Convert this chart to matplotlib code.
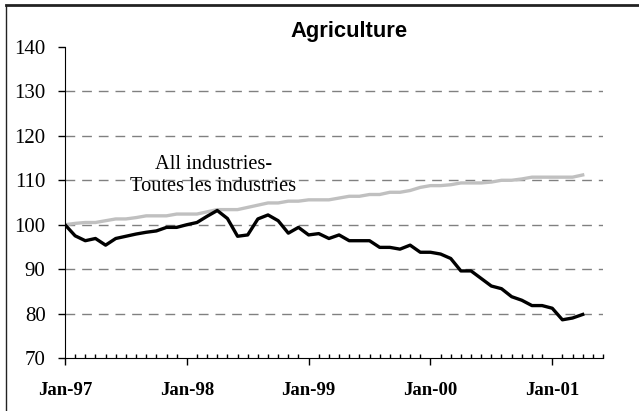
import matplotlib.pyplot as plt
from matplotlib.lines import Line2D
from matplotlib.ticker import FixedLocator
import numpy as np

# monthly index, Jan-97 = 100
month_labels = ["Jan-97", "Jan-98", "Jan-99", "Jan-00", "Jan-01"]
agriculture = [100.0, 97.5, 96.4, 96.9, 95.4, 96.9, 97.4, 97.9, 98.3, 98.6, 99.4, 99.4,
               100.0, 100.5, 101.9, 103.2, 101.4, 97.4, 97.7, 101.3, 102.2, 100.9, 98.1, 99.4,
               97.7, 98.0, 96.9, 97.7, 96.4, 96.4, 96.4, 94.9, 94.9, 94.5, 95.4, 93.8,
               93.8, 93.4, 92.4, 89.6, 89.6, 87.9, 86.2, 85.6, 83.8, 83.0, 81.8, 81.8,
               81.2, 78.6, 79.0, 79.8]
all_industries = [100.0, 100.3, 100.5, 100.5, 100.9, 101.3, 101.3, 101.6, 102.0, 102.0, 102.0, 102.4,
                  102.4, 102.4, 102.9, 103.4, 103.4, 103.4, 103.9, 104.4, 104.9, 104.9, 105.3, 105.3,
                  105.6, 105.6, 105.6, 106.0, 106.4, 106.4, 106.8, 106.8, 107.3, 107.3, 107.7, 108.4,
                  108.8, 108.8, 109.0, 109.4, 109.4, 109.4, 109.6, 110.0, 110.0, 110.3, 110.7, 110.7,
                  110.7, 110.7, 110.7, 111.2]

x = np.arange(len(agriculture))

fig = plt.figure(figsize=(6.39, 4.11), dpi=100)
ax = fig.add_axes([65/639, 53/411, 538/639, 311/411])

for yv in range(80, 140, 10):
    ax.axhline(yv, color="#808080", lw=1, dashes=(7, 5), zorder=1)

ax.plot(x, all_industries, color="#c0c0c0", lw=2.4, zorder=2)
ax.plot(x, agriculture, color="black", lw=2.4, zorder=3)

ax.set_xlim(0, 53)
ax.set_ylim(70, 140)
ax.set_yticks(range(70, 141, 10))
ax.set_xticks(np.arange(0, 53, 12))
ax.set_xticklabels(month_labels, family="Liberation Serif", fontweight="bold", fontsize=13.5)
ax.xaxis.set_minor_locator(FixedLocator(np.arange(0, 54, 1)))
for lab in ax.get_yticklabels():
    lab.set_family("Liberation Serif")
    lab.set_fontsize(15)

ax.spines["top"].set_visible(False)
ax.spines["right"].set_visible(False)
ax.tick_params(axis="y", direction="out", length=5, width=1, pad=9)
ax.tick_params(axis="x", which="major", direction="out", length=5, width=1, pad=12)
ax.tick_params(axis="x", which="minor", direction="in", length=3, width=1)

ax.text(14.6, 111.1, "All industries-\nToutes les industries", family="Liberation Serif",
        fontsize=14.7, ha="center", va="center", linespacing=1.2)

fig.text(349/639, 1 - 32/411, "Agriculture", family="Liberation Sans", fontweight="bold",
         fontsize=15.8, ha="center", va="center")

# outer frame (only top and left edges visible in the source)
fig.add_artist(Line2D([6/639, 1], [1 - 5/411, 1 - 5/411], color="#222222", lw=2, transform=fig.transFigure))
fig.add_artist(Line2D([6/639, 6/639], [0, 1 - 5/411], color="#222222", lw=1, transform=fig.transFigure))

fig.savefig("out.png", dpi=100)
